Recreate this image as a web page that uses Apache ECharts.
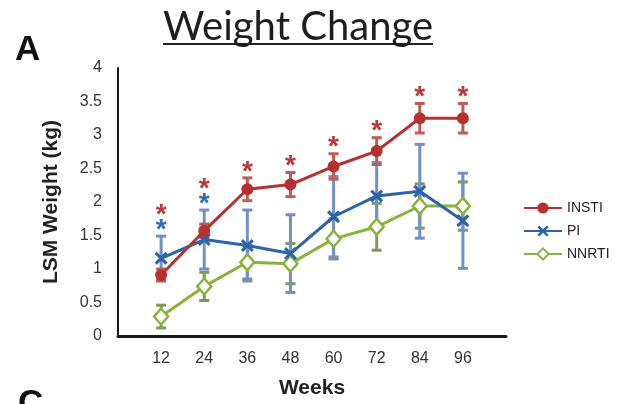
<!DOCTYPE html>
<html>
<head>
<meta charset="utf-8">
<script src="https://cdn.jsdelivr.net/npm/echarts@6/dist/echarts.min.js"></script>
<style>
  html, body { margin: 0; padding: 0; background: #fff; }
  #chart { width: 624px; height: 404px; }
</style>
</head>
<body>
<div id="chart"></div>
<script>
// Study weeks
const weeks = [12, 24, 36, 48, 60, 72, 84, 96];

// LSM weight change (kg) with error half-widths per regimen
const instiMean = [0.91, 1.57, 2.19, 2.26, 2.53, 2.76, 3.25, 3.25];
const instiErr  = [0.09, 0.10, 0.17, 0.18, 0.19, 0.20, 0.22, 0.22];
const piMean    = [1.16, 1.44, 1.35, 1.23, 1.78, 2.09, 2.16, 1.72];
const piErr     = [0.33, 0.44, 0.53, 0.58, 0.60, 0.50, 0.70, 0.71];
const nnrtiMean = [0.29, 0.74, 1.10, 1.08, 1.45, 1.63, 1.94, 1.94];
const nnrtiErr  = [0.17, 0.21, 0.25, 0.30, 0.30, 0.35, 0.33, 0.36];

// Significance flags (asterisks) per week
const instiSig = [1, 1, 1, 1, 1, 1, 1, 1];
const piSig    = [1, 1, 0, 0, 0, 0, 0, 0];

// Axis ticks
const yTicks = [0, 0.5, 1, 1.5, 2, 2.5, 3, 3.5, 4];

const C = {
  insti: '#b5302e', instiErr: '#bf5c56', instiStar: '#b83a36',
  pi: '#2d63a8', piErr: '#7190c6', piStar: '#2f6db5',
  nnrti: '#8ab23e', nnrtiErr: '#7d9a5c'
};

const X_SHAPE = 'path://M2,0 L6,4 L10,0 L12,2 L8,6 L12,10 L10,12 L6,8 L2,12 L0,10 L4,6 L0,2 Z';

function errData(mean, err) {
  return weeks.map((w, i) => [w, mean[i] - err[i], mean[i] + err[i]]);
}

function errSeries(name, mean, err, color) {
  return {
    type: 'custom',
    name: name + '-err',
    z: 1,
    silent: true,
    data: errData(mean, err),
    renderItem: function (params, api) {
      const lo = api.coord([api.value(0), api.value(1)]);
      const hi = api.coord([api.value(0), api.value(2)]);
      const hw = 5;
      const st = { stroke: color, lineWidth: 3 };
      return {
        type: 'group',
        children: [
          { type: 'line', shape: { x1: hi[0], y1: hi[1], x2: lo[0], y2: lo[1] }, style: st },
          { type: 'line', shape: { x1: hi[0] - hw, y1: hi[1], x2: hi[0] + hw, y2: hi[1] }, style: st },
          { type: 'line', shape: { x1: lo[0] - hw, y1: lo[1], x2: lo[0] + hw, y2: lo[1] }, style: st }
        ]
      };
    }
  };
}

// Highest error-bar top at each week, used to stack the asterisks above it
const topMax = weeks.map((w, i) => Math.max(
  instiMean[i] + instiErr[i], piMean[i] + piErr[i], nnrtiMean[i] + nnrtiErr[i]));
const starData = weeks.map((w, i) => [w, topMax[i], instiSig[i], piSig[i]]);

const chart = echarts.init(document.getElementById('chart'), null, { renderer: 'canvas' });

chart.setOption({
  animation: false,
  backgroundColor: '#ffffff',
  grid: { left: 118, right: 118, top: 68, bottom: 64 },
  title: {
    text: 'Weight Change',
    left: 293, top: 2, textAlign: 'center',
    textStyle: { fontFamily: 'Lato', fontSize: 40, fontWeight: 'normal', color: '#1e1e1e' }
  },
  graphic: [
    { type: 'line', shape: { x1: 163, y1: 44, x2: 433, y2: 44 }, style: { stroke: '#222', lineWidth: 2 } },
    { type: 'text', left: 15, top: 33, style: { text: 'A', font: 'bold 35px "Liberation Sans", Arial', fill: '#111' } },
    { type: 'text', left: 18, top: 387, style: { text: 'C', font: 'bold 35px "Liberation Sans", Arial', fill: '#111' } }
  ],
  legend: {
    orient: 'vertical',
    left: 518, top: 196,
    itemWidth: 38, itemHeight: 14, itemGap: 9,
    data: ['INSTI', 'PI', 'NNRTI'],
    textStyle: { fontFamily: '"Liberation Sans", Arial', fontSize: 14, color: '#222' }
  },
  xAxis: {
    type: 'value', min: 0, max: 108, interval: 12,
    name: 'Weeks', nameLocation: 'middle', nameGap: 42,
    nameTextStyle: { fontFamily: '"Liberation Sans", Arial', fontWeight: 'bold', fontSize: 21, color: '#222' },
    axisLine: { lineStyle: { color: '#1a1a1a', width: 3 } },
    axisTick: { show: false },
    splitLine: { show: false },
    axisLabel: {
      margin: 15, fontFamily: '"Liberation Sans", Arial', fontSize: 16, color: '#333',
      formatter: v => (weeks.indexOf(v) >= 0 ? String(v) : '')
    }
  },
  yAxis: {
    type: 'value', min: yTicks[0], max: yTicks[yTicks.length - 1], interval: 0.5,
    name: 'LSM Weight (kg)', nameLocation: 'middle', nameGap: 56, nameRotate: 90,
    nameTextStyle: { fontFamily: '"Liberation Sans", Arial', fontWeight: 'bold', fontSize: 21, color: '#222' },
    axisLine: { show: true, lineStyle: { color: '#1a1a1a', width: 2 } },
    axisTick: { show: false },
    splitLine: { show: false },
    axisLabel: { margin: 16, fontFamily: '"Liberation Sans", Arial', fontSize: 16, color: '#333' }
  },
  series: [
    errSeries('NNRTI', nnrtiMean, nnrtiErr, C.nnrtiErr),
    errSeries('PI', piMean, piErr, C.piErr),
    errSeries('INSTI', instiMean, instiErr, C.instiErr),
    {
      name: 'NNRTI', type: 'line', z: 3,
      data: weeks.map((w, i) => [w, nnrtiMean[i]]),
      lineStyle: { color: C.nnrti, width: 3 },
      symbol: 'diamond', symbolSize: [14, 16],
      itemStyle: { color: '#ffffff', borderColor: C.nnrti, borderWidth: 2.5 }
    },
    {
      name: 'PI', type: 'line', z: 4,
      data: weeks.map((w, i) => [w, piMean[i]]),
      lineStyle: { color: C.pi, width: 3 },
      symbol: X_SHAPE, symbolSize: 13,
      itemStyle: { color: C.pi }
    },
    {
      name: 'INSTI', type: 'line', z: 5,
      data: weeks.map((w, i) => [w, instiMean[i]]),
      lineStyle: { color: C.insti, width: 3 },
      symbol: 'circle', symbolSize: 12,
      itemStyle: { color: C.insti }
    },
    {
      type: 'custom', name: 'sig', z: 6, silent: true,
      data: starData,
      renderItem: function (params, api) {
        const p = api.coord([api.value(0), api.value(1)]);
        const children = [];
        let y = p[1] - 14;
        const star = (color, yy) => ({
          type: 'text',
          style: {
            text: '*', x: p[0], y: yy + 8, fill: color,
            font: 'bold 28px "Liberation Sans", Arial', align: 'center', verticalAlign: 'middle'
          }
        });
        if (api.value(3)) { children.push(star(C.piStar, y)); y -= 15; }
        if (api.value(2)) { children.push(star(C.instiStar, y)); }
        return { type: 'group', children: children };
      }
    }
  ]
});
</script>
</body>
</html>
